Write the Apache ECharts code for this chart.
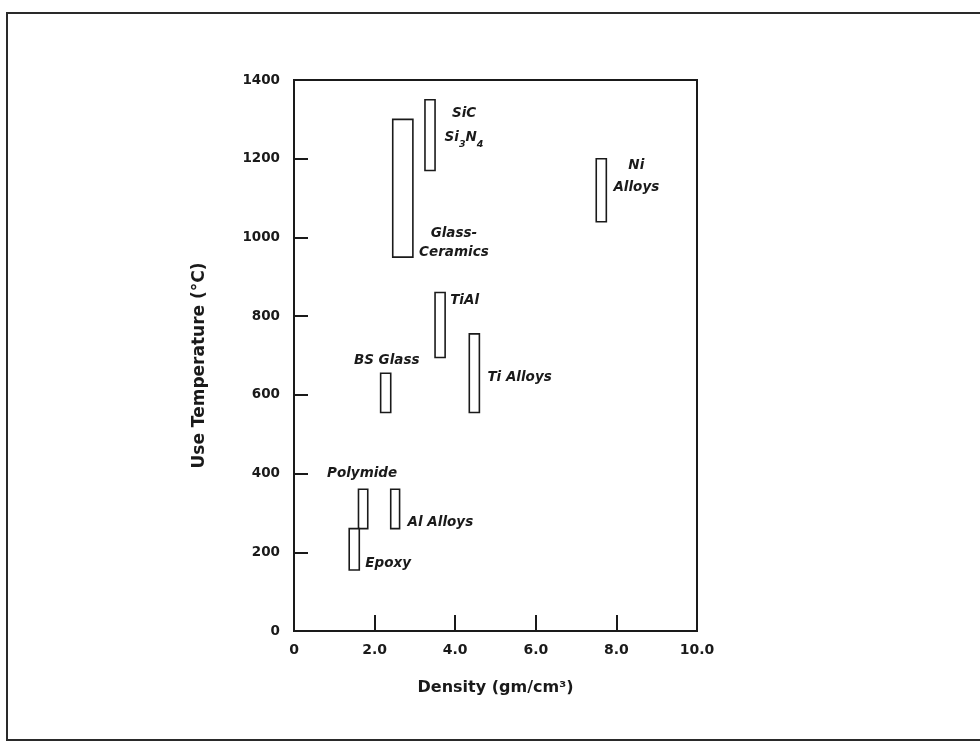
<!DOCTYPE html>
<html>
<head>
<meta charset="utf-8">
<script src="https://cdn.jsdelivr.net/npm/echarts@6/dist/echarts.min.js"></script>
<style>
  html, body { margin: 0; padding: 0; background: #fff; }
  #chart { width: 980px; height: 754px; }
</style>
</head>
<body>
<div id="chart"></div>
<script>
// ---- Data ----
const materials  = ['SiC / Si3N4', 'Glass-Ceramics', 'Ni Alloys', 'TiAl', 'BS Glass', 'Ti Alloys', 'Polymide', 'Al Alloys', 'Epoxy'];
const densityMin = [3.25, 2.45, 7.50, 3.50, 2.15, 4.35, 1.60, 2.40, 1.37];
const densityMax = [3.50, 2.95, 7.75, 3.75, 2.40, 4.60, 1.83, 2.62, 1.62];
const tempMin    = [1170,  950, 1040,  695,  555,  555,  260,  260,  155];
const tempMax    = [1350, 1300, 1200,  860,  655,  755,  360,  360,  260];
const labelTexts = ['SiC\nSi{s|3}N{s|4}', 'Glass-\nCeramics', 'Ni\nAlloys', 'TiAl', 'BS Glass', 'Ti Alloys', 'Polymide', 'Al Alloys', 'Epoxy'];
const xTickLabels = ['0', '2.0', '4.0', '6.0', '8.0', '10.0'];
const yTickLabels = ['0', '200', '400', '600', '800', '1000', '1200', '1400'];

// ---- Label placement relative to each box (styling, not data) ----
const labelLayout = [
  { hx: 'right',  dx: 29, vy: 'top',    dy: 2,   align: 'center', vAlign: 'top',    lh: 24 },
  { hx: 'right',  dx: 41, vy: 'bottom', dy: 5,   align: 'center', vAlign: 'bottom', lh: 19 },
  { hx: 'right',  dx: 30, vy: 'top',    dy: -4,  align: 'center', vAlign: 'top',    lh: 22 },
  { hx: 'right',  dx: 5,  vy: 'top',    dy: 8,   align: 'left',   vAlign: 'middle', lh: 18 },
  { hx: 'center', dx: 1,  vy: 'top',    dy: -13, align: 'center', vAlign: 'middle', lh: 18 },
  { hx: 'right',  dx: 8,  vy: 'middle', dy: 4,   align: 'left',   vAlign: 'middle', lh: 18 },
  { hx: 'center', dx: -1, vy: 'top',    dy: -16, align: 'center', vAlign: 'middle', lh: 18 },
  { hx: 'right',  dx: 8,  vy: 'bottom', dy: -6,  align: 'left',   vAlign: 'middle', lh: 18 },
  { hx: 'right',  dx: 6,  vy: 'bottom', dy: -6,  align: 'left',   vAlign: 'middle', lh: 18 }
];

const data = materials.map((m, i) => [densityMin[i], densityMax[i], tempMin[i], tempMax[i]]);

const FONT = '"DejaVu Sans", Verdana, sans-serif';
const INK = '#1a1a1a';

function renderItem(params, api) {
  const i = params.dataIndex;
  const p0 = api.coord([api.value(0), api.value(3)]);
  const p1 = api.coord([api.value(1), api.value(2)]);
  const L = labelLayout[i];
  const bx = L.hx === 'right' ? p1[0] : (p0[0] + p1[0]) / 2;
  const by = L.vy === 'top' ? p0[1] : (L.vy === 'bottom' ? p1[1] : (p0[1] + p1[1]) / 2);
  return {
    type: 'group',
    children: [
      {
        type: 'rect',
        shape: { x: p0[0], y: p0[1], width: p1[0] - p0[0], height: p1[1] - p0[1] },
        style: { fill: '#fff', stroke: INK, lineWidth: 1.6 }
      },
      {
        type: 'text',
        x: bx + L.dx,
        y: by + L.dy,
        style: {
          text: labelTexts[i],
          fill: INK,
          fontFamily: FONT,
          fontSize: 13.5,
          fontStyle: 'italic',
          fontWeight: 'bold',
          lineHeight: L.lh,
          align: L.align,
          verticalAlign: L.vAlign,
          rich: {
            s: { fontSize: 9.5, fontStyle: 'italic', fontWeight: 'bold', fontFamily: FONT, fill: INK, verticalAlign: 'bottom', lineHeight: 10 }
          }
        }
      }
    ]
  };
}

const chart = echarts.init(document.getElementById('chart'), null, { renderer: 'canvas' });
chart.setOption({
  backgroundColor: '#fff',
  animation: false,
  grid: {
    left: 294, right: 283, top: 80, bottom: 123,
    show: true, borderColor: INK, borderWidth: 2, backgroundColor: 'transparent'
  },
  graphic: [
    {
      type: 'rect',
      shape: { x: 7, y: 13, width: 980, height: 727 },
      style: { fill: 'none', stroke: '#2a2a2a', lineWidth: 2 },
      silent: true
    }
  ],
  xAxis: {
    type: 'value', min: 0, max: 10, interval: 2,
    name: 'Density (gm/cm³)',
    nameLocation: 'middle', nameGap: 49,
    nameTextStyle: { fontFamily: FONT, fontSize: 16, fontWeight: 'bold', color: INK },
    axisLine: { show: true, lineStyle: { color: INK, width: 2 } },
    axisTick: { show: true, inside: true, length: 16, lineStyle: { color: INK, width: 2 } },
    axisLabel: {
      margin: 12, fontFamily: FONT, fontSize: 14, fontWeight: 'bold', color: INK,
      formatter: (v) => xTickLabels[Math.round(v / 2)]
    },
    splitLine: { show: false }
  },
  yAxis: {
    type: 'value', min: 0, max: 1400, interval: 200,
    name: 'Use Temperature (°C)',
    nameLocation: 'middle', nameGap: 86,
    nameTextStyle: { fontFamily: FONT, fontSize: 17, fontWeight: 'bold', color: INK, padding: [0, 20, 0, 0] },
    axisLine: { show: true, lineStyle: { color: INK, width: 2 } },
    axisTick: { show: true, inside: true, length: 14, lineStyle: { color: INK, width: 2 } },
    axisLabel: {
      margin: 14, fontFamily: FONT, fontSize: 13.5, fontWeight: 'bold', color: INK,
      formatter: (v) => yTickLabels[Math.round(v / 200)]
    },
    splitLine: { show: false }
  },
  series: [
    {
      type: 'custom',
      renderItem: renderItem,
      encode: { x: [0, 1], y: [2, 3] },
      data: data,
      clip: false
    }
  ]
});
</script>
</body>
</html>
